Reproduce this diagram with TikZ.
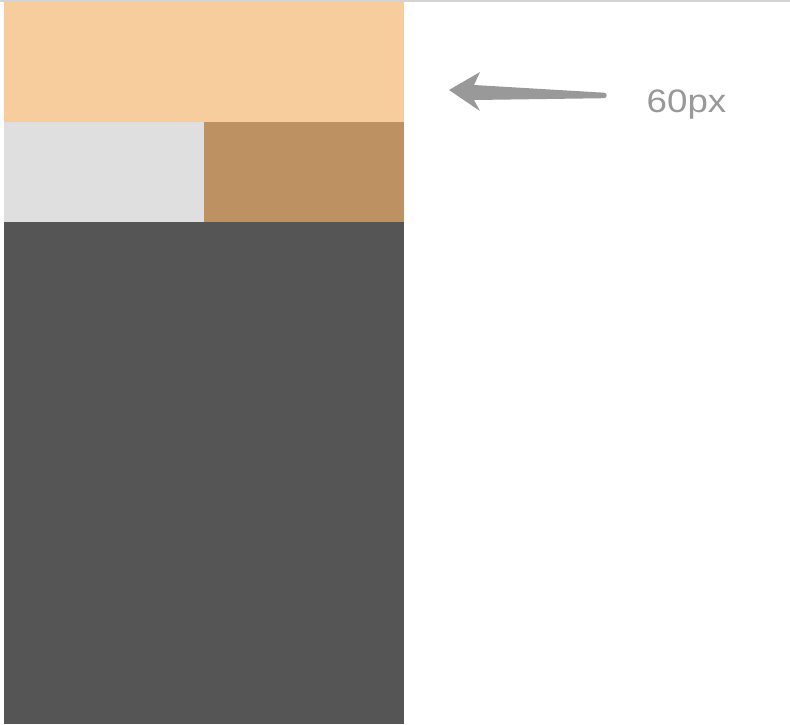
\documentclass[tikz,border=0pt]{standalone}
\usepackage{fontspec}
\setmainfont{Liberation Sans}
\definecolor{peach}{HTML}{F8CD9E}
\definecolor{lightg}{HTML}{DFDFDF}
\definecolor{tan}{HTML}{BE9163}
\definecolor{darkg}{HTML}{555555}
\definecolor{arrowg}{HTML}{999999}
\definecolor{topline}{HTML}{D4D4D4}
\begin{document}
\begin{tikzpicture}[x=1pt,y=-1pt,
  block/.style={inner sep=0pt,outer sep=0pt,anchor=north west,minimum width=#1},
  lbl/.style={text=arrowg,font=\fontsize{32.5}{36}\selectfont,inner sep=0pt,anchor=base west,xscale=1.13}]
\useasboundingbox (0,0) rectangle (790,724);
\fill[white] (0,0) rectangle (790,724);
\fill[topline] (0,0) rectangle (790,1.6);
\node[block=400pt,minimum height=120pt,fill=peach] (header) at (4,2) {};
\node[block=200pt,minimum height=100pt,fill=lightg] (left) at (4,122) {};
\node[block=200pt,minimum height=100pt,fill=tan] (right) at (204,122) {};
\node[block=400pt,minimum height=502pt,fill=darkg] (body) at (4,222) {};
\coordinate (tip) at (449,90);
\fill[arrowg] (tip) -- (480,72) -- (474,85) -- (604,92.7)
  .. controls (607.6,92.7) and (607.6,98.2) .. (604,98.2) -- (474,100) -- (480,111) -- cycle;
\node[lbl] (size) at (646.5,112) {60px};
\end{tikzpicture}
\end{document}
